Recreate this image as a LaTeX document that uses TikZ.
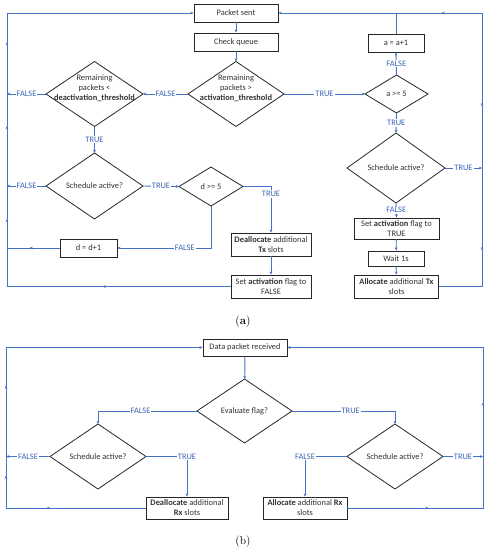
\documentclass[tikz,border=0pt]{standalone}
\usepackage{fontspec}
\usepackage{tikz}
\usetikzlibrary{arrows.meta}
\usetikzlibrary{shapes.geometric}
\usetikzlibrary{decorations.markings}

\newfontfamily\calibri{Carlito}
\newcommand\flowfont{\calibri\fontsize{8.4}{10}\selectfont}

\definecolor{lineblue}{HTML}{4472C4}
\definecolor{lblblue}{HTML}{3C64B4}
\definecolor{boxgray}{HTML}{262626}
\definecolor{txtgray}{HTML}{333333}

\tikzset{
    flow/.style={draw=lineblue, line width=0.9pt},
    marks/.style={postaction={decorate, decoration={markings, #1}}},
    box/.style={draw=boxgray, line width=0.9pt, fill=white, text=txtgray, align=center, inner sep=1pt, font=\flowfont},
    decide/.style={diamond, draw=boxgray, line width=0.8pt, fill=white, inner sep=0pt, outer sep=0pt},
    dtext/.style={text=txtgray, align=center, font=\flowfont},
    lbl/.style={fill=white, text=lblblue, inner sep=1pt, font=\flowfont},
}

\begin{document}
\begin{tikzpicture}[x=1pt, y=-1pt, >={Stealth[length=3.2pt, width=2.8pt]}]
\useasboundingbox (0,0) rectangle (491,550);

% (a) sending side
\node[box, minimum width=84pt, minimum height=18pt] (sent)  at (236,13) {Packet sent};
\node[box, minimum width=84pt, minimum height=18pt] (queue) at (236,42) {Check queue};
\node[decide, minimum width=96pt, minimum height=65pt,
      label={[dtext, yshift=6pt]center:{Remaining\\packets >\\\textbf{activation\_threshold}}}] (remhi) at (236,94) {};
\node[decide, minimum width=97pt, minimum height=65pt,
      label={[dtext, yshift=6pt]center:{Remaining\\packets <\\\textbf{deactivation\_threshold}}}] (remlo) at (94.5,94) {};
\node[decide, minimum width=97pt, minimum height=66pt, label={[dtext]center:Schedule active?}] (schedL) at (94.5,186) {};
\node[decide, minimum width=64pt, minimum height=39pt, label={[dtext]center:d >= 5}] (dchk) at (211,186.5) {};
\node[box, minimum width=57pt, minimum height=18pt] (dinc) at (88.5,248) {d = d+1};
\node[box, minimum width=80pt, minimum height=23pt] (dealloc)  at (271,244.5) {\textbf{Deallocate} additional\\\textbf{Tx} slots};
\node[box, minimum width=80pt, minimum height=23pt] (setfalse) at (271,286.5) {Set \textbf{activation} flag to\\FALSE};

\node[box, minimum width=56pt, minimum height=18pt] (ainc) at (396,43) {a = a+1};
\node[decide, minimum width=63pt, minimum height=38pt, label={[dtext]center:a >= 5}] (achk) at (396.5,94) {};
\node[decide, minimum width=98pt, minimum height=70pt, label={[dtext]center:Schedule active?}] (schedR) at (396,168) {};
\node[box, minimum width=85pt, minimum height=21pt] (settrue) at (396.5,228.5) {Set \textbf{activation} flag to\\TRUE};
\node[box, minimum width=56pt, minimum height=15pt] (wait)    at (396,258.5) {Wait 1s};
\node[box, minimum width=84pt, minimum height=23pt] (alloc)   at (396.5,286.5) {\textbf{Allocate} additional \textbf{Tx}\\slots};

\coordinate (railL) at (7,13);
\coordinate (railR) at (482,13);

\draw[flow, ->] (sent) -- (queue);
\draw[flow, ->] (queue) -- (remhi);
\draw[flow, ->] (remhi.west) -- node[lbl]{FALSE} (remlo.east);
\draw[flow, ->] (remlo.west) -- node[lbl]{FALSE} (remlo.west -| railL);
\draw[flow, ->] (remlo.south) -- node[lbl]{TRUE} (schedL.north);
\draw[flow, ->] (schedL.west) -- node[lbl]{FALSE} (schedL.west -| railL);
\draw[flow, ->] (schedL.east) -- node[lbl]{TRUE} (dchk.west);
\draw[flow, ->] (dchk.east) -| node[lbl, pos=0.58]{TRUE} (dealloc.north);
\draw[flow, ->] (dchk.south) |- node[lbl, pos=0.64]{FALSE} (dinc.east);
\draw[flow, marks={mark=at position 0.57 with {\arrow{>}}}] (dinc.west) -- (dinc.west -| railL);
\draw[flow, ->] (dealloc) -- (setfalse);
\draw[flow, ->, marks={mark=at position 128pt with {\arrow{>}}, mark=at position 291pt with {\arrow{>}},
      mark=at position 384pt with {\arrow{>}}, mark=at position 468pt with {\arrow{>}}}]
    (setfalse.west) -| (railL) -- (sent.west);

\draw[flow, ->] (remhi.east) -- node[lbl]{TRUE} (achk.west);
\draw[flow, ->] (achk.north) -- node[lbl]{FALSE} (ainc.south);
\draw[flow] (ainc.north) -- (ainc.north |- railR);
\draw[flow, ->] (achk.south) -- node[lbl]{TRUE} (schedR.north);
\draw[flow, ->] (schedR.east) -- node[lbl]{TRUE} (schedR.east -| railR);
\draw[flow, ->] (schedR.south) -- node[lbl]{FALSE} (settrue.north);
\draw[flow, ->] (settrue) -- (wait);
\draw[flow, ->] (wait) -- (alloc);
\draw[flow, ->, marks={mark=at position 83pt with {\arrow{>}}, mark=at position 227pt with {\arrow{>}},
      mark=at position 357pt with {\arrow{>}}}]
    (alloc.east) -| (railR) -- (sent.east);

\node[font=\fontsize{11.5}{13}\selectfont] (capa) at (243,322) {(\textbf{a})};

% (b) receiving side
\node[box, minimum width=84pt, minimum height=17pt] (recv) at (245,347.5) {Data packet received};
\node[decide, minimum width=95pt, minimum height=64pt, label={[dtext]center:Evaluate flag?}] (evalf) at (244.5,411) {};
\node[decide, minimum width=96pt, minimum height=65pt, label={[dtext]center:Schedule active?}] (schedLb) at (98,456.5) {};
\node[decide, minimum width=96pt, minimum height=65pt, label={[dtext]center:Schedule active?}] (schedRb) at (395,456.5) {};
\node[box, minimum width=82pt, minimum height=22pt] (deallocrx) at (187,508) {\textbf{Deallocate} additional\\\textbf{Rx} slots};
\node[box, minimum width=84pt, minimum height=22pt] (allocrx)   at (305,508) {\textbf{Allocate} additional \textbf{Rx}\\slots};

\coordinate (railLb) at (6,347.5);
\coordinate (railRb) at (483,347.5);

\draw[flow, ->] (recv) -- (evalf);
\draw[flow, ->] (evalf.west) -| node[lbl, pos=0.285]{FALSE} (schedLb.north);
\draw[flow, ->] (evalf.east) -| node[lbl, pos=0.285]{TRUE} (schedRb.north);
\draw[flow, ->] (schedLb.west) -- node[lbl]{FALSE} (schedLb.west -| railLb);
\draw[flow, ->] (schedLb.east) -| node[lbl]{TRUE} (deallocrx.north);
\draw[flow, ->] (schedRb.west) -| node[lbl]{FALSE} (allocrx.north);
\draw[flow, ->] (schedRb.east) -- node[lbl]{TRUE} (schedRb.east -| railRb);
\draw[flow, ->, marks={mark=at position 99pt with {\arrow{>}}, mark=at position 172pt with {\arrow{>}},
      mark=at position 262pt with {\arrow{>}}}]
    (deallocrx.west) -| (railLb) -- (recv.west);
\draw[flow, ->, marks={mark=at position 81pt with {\arrow{>}}, mark=at position 241pt with {\arrow{>}}}]
    (allocrx.east) -| (railRb) -- (recv.east);

\node[font=\fontsize{11.5}{13}\selectfont] (capb) at (243,542) {(b)};
\end{tikzpicture}
\end{document}
